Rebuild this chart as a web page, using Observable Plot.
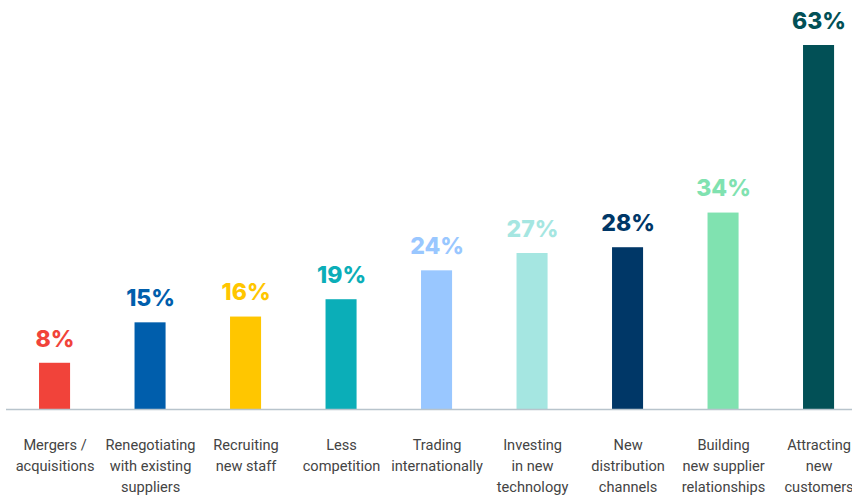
<!DOCTYPE html>
<html>
<head>
<meta charset="utf-8">
<script src="https://cdn.jsdelivr.net/npm/d3@7"></script>
<script src="https://cdn.jsdelivr.net/npm/@observablehq/plot@0.6"></script>
<style>
  html, body { margin: 0; padding: 0; background: #fff; }
  #chart svg { display: block; }
</style>
</head>
<body>
<div id="chart"></div>
<script>
const categories = [
  "Mergers /\nacquisitions",
  "Renegotiating\nwith existing\nsuppliers",
  "Recruiting\nnew staff",
  "Less\ncompetition",
  "Trading\ninternationally",
  "Investing\nin new\ntechnology",
  "New\ndistribution\nchannels",
  "Building\nnew supplier\nrelationships",
  "Attracting\nnew\ncustomers"
];
const values = [8, 15, 16, 19, 24, 27, 28, 34, 63];
const colors = ["#F1433A", "#005EAC", "#FFC600", "#0BAEB8", "#99C7FF", "#A5E6E1", "#003767", "#80E2B0", "#025056"];

const data = categories.map((c, i) => ({category: c, value: values[i], color: colors[i]}));

const chart = Plot.plot({
  width: 852,
  height: 495,
  marginLeft: 6,
  marginRight: 0,
  marginTop: 0,
  marginBottom: 0,
  x: {domain: categories, range: [6.8, 866.3], paddingInner: 0.675, paddingOuter: 0.3375, round: false, axis: null},
  y: {domain: [0, 63], range: [409, 45], axis: null},
  marks: [
    Plot.barY(data, {x: "category", y: "value", fill: "color"}),
    Plot.ruleY([0], {stroke: "#B8C4CC", strokeWidth: 1.6}),
    Plot.text(data, {
      x: "category", y: "value", text: d => d.value + "%", fill: "color",
      dy: -24, fontSize: 23, fontWeight: 800, fontFamily: "Inter, sans-serif"
    }),
    Plot.text(data, {
      x: "category", y: 0, text: "category", lineAnchor: "top", lineHeight: 1.44,
      dy: 26, fontSize: 14.6, fill: "#444444", fontFamily: "Roboto, sans-serif"
    })
  ]
});
document.getElementById("chart").appendChild(chart);
</script>
</body>
</html>
